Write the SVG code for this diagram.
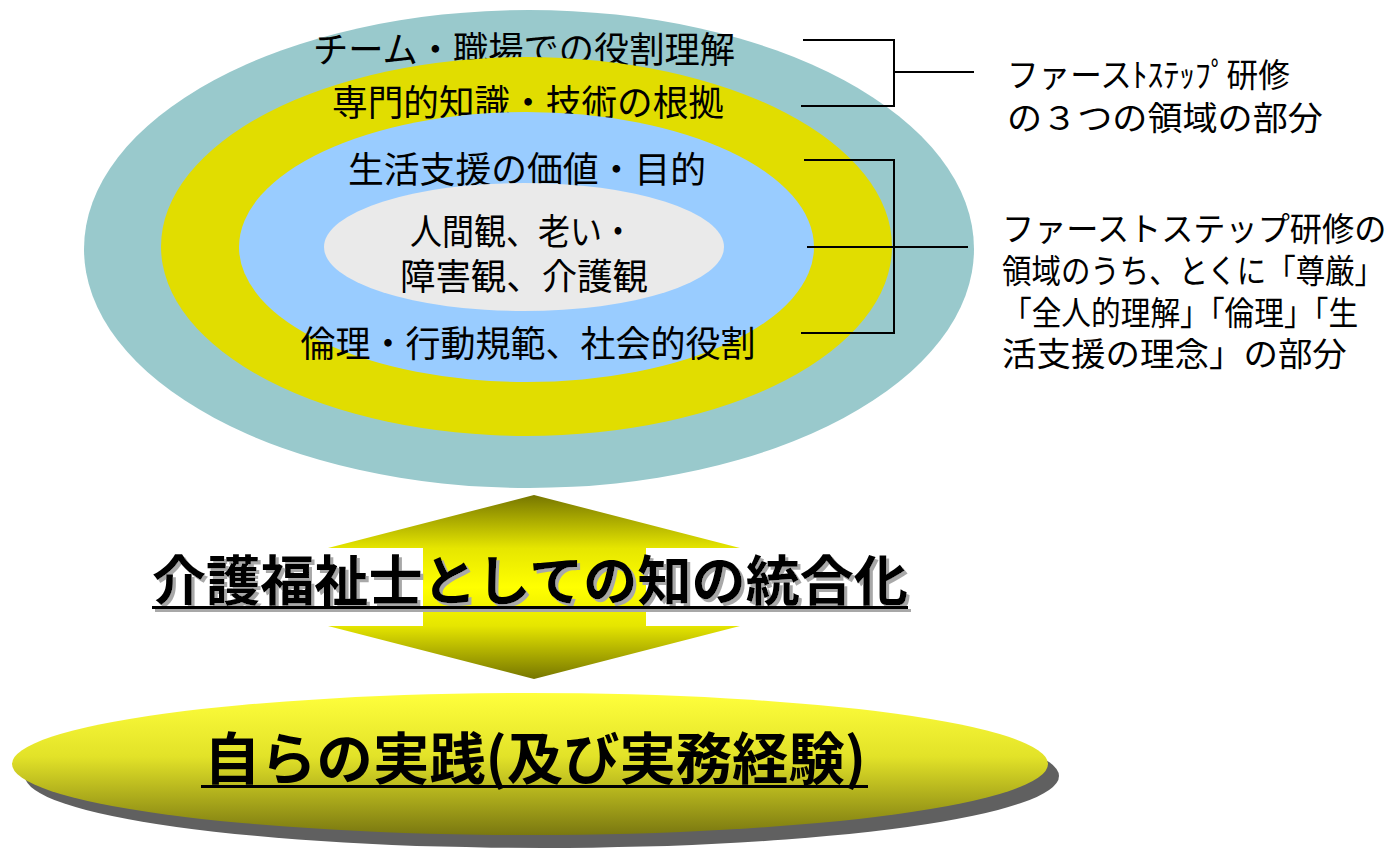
<svg xmlns="http://www.w3.org/2000/svg" width="1395" height="851" viewBox="0 0 1395 851">
<style>
.t{font-family:"Noto Sans CJK JP","Noto Sans",sans-serif;fill:#000}
.c{font-family:"Liberation Sans","Noto Sans CJK JP",sans-serif;fill:#000}
.ring{font-size:36px;text-anchor:middle}
.side{font-size:33px}
.big{font-weight:bold}
.ln{stroke:#000;stroke-width:2;fill:none}
</style>
<defs>
<linearGradient id="arrowGrad" gradientUnits="userSpaceOnUse" x1="0" y1="495" x2="0" y2="679">
<stop offset="0" stop-color="#767600"/>
<stop offset="0.29" stop-color="#E6E600"/>
<stop offset="0.5" stop-color="#FFFF00"/>
<stop offset="0.71" stop-color="#E6E600"/>
<stop offset="1" stop-color="#767600"/>
</linearGradient>
<linearGradient id="baseGrad" x1="0" y1="0" x2="0" y2="1">
<stop offset="0" stop-color="#FFFF3C"/>
<stop offset="0.45" stop-color="#E2E228"/>
<stop offset="1" stop-color="#7A7810"/>
</linearGradient>
<filter id="textShadow" x="-5%" y="-20%" width="110%" height="140%">
<feOffset in="SourceAlpha" dx="3" dy="3" result="off"/>
<feFlood flood-color="#A8A8A8"/>
<feComposite in2="off" operator="in" result="sh"/>
<feMerge><feMergeNode in="sh"/><feMergeNode in="SourceGraphic"/></feMerge>
</filter>
</defs>
<rect width="1395" height="851" fill="#fff"/>

<g id="outer-ring">
<ellipse cx="529" cy="249" rx="445" ry="239" fill="#99C9CC"/>
<text class="c ring" x="524" y="63" textLength="422" lengthAdjust="spacingAndGlyphs">チーム・職場での役割理解</text>
</g>
<g id="yellow-ring">
<ellipse cx="526.5" cy="246.5" rx="365.5" ry="189.5" fill="#E1DD00"/>
<text class="c ring" x="528" y="116" textLength="392" lengthAdjust="spacingAndGlyphs">専門的知識・技術の根拠</text>
</g>
<g id="blue-ring">
<ellipse cx="526.5" cy="247" rx="287.5" ry="135" fill="#99CCFF"/>
<text class="c ring" x="527" y="183" textLength="358" lengthAdjust="spacingAndGlyphs">生活支援の価値・目的</text>
<text class="c ring" x="528" y="357" textLength="455" lengthAdjust="spacingAndGlyphs">倫理・行動規範、社会的役割</text>
</g>
<g id="core">
<ellipse cx="524" cy="247" rx="200" ry="64" fill="#EAEAEA"/>
<text class="c ring" x="522" y="245" textLength="224" lengthAdjust="spacingAndGlyphs">人間観、老い・</text>
<text class="c ring" x="524" y="290" textLength="248" lengthAdjust="spacingAndGlyphs">障害観、介護観</text>
</g>

<g id="connectors">
<polyline class="ln" points="803,40 894,40 894,106 801,106"/>
<line class="ln" x1="894" y1="72" x2="974" y2="72"/>
<polyline class="ln" points="804,160 894,160 894,333 801,333"/>
<line class="ln" x1="807" y1="247" x2="968" y2="247"/>
</g>

<g id="label-three-areas">
<text class="c side" transform="translate(1007,87) scale(0.958,1)">ファースﾄｽﾃｯﾌﾟ研修</text>
<text class="c side" transform="translate(1007,130) scale(1.064,1)">の３つの領域の部分</text>
</g>
<g id="label-dignity">
<text class="c side" transform="translate(1002,241) scale(0.975,1)">ファーストステップ研修の</text>
<text class="c side" transform="translate(1002,283) scale(0.893,1)">領域のうち、とくに「尊厳」</text>
<text class="c side" transform="translate(1002,325) scale(0.9,1)">「全人的理解」「倫理」「生</text>
<text class="c side" transform="translate(1002,366) scale(1.045,1)">活支援の理念」の部分</text>
</g>

<g id="integration-arrow">
<polygon points="534,495 740,548 646,548 646,626 740,626 534,679 328,626 423,626 423,548 328,548" fill="url(#arrowGrad)"/>
<g filter="url(#textShadow)">
<text class="t big" x="152" y="601" font-size="54" textLength="756" lengthAdjust="spacingAndGlyphs">介護福祉士としての知の統合化</text>
<rect x="152" y="606" width="756" height="3" fill="#000"/>
</g>
</g>

<g id="practice">
<ellipse cx="542" cy="776" rx="517" ry="72" fill="#606060"/>
<ellipse cx="530" cy="764" rx="518" ry="71" fill="url(#baseGrad)"/>
<text class="t big" x="204" y="779" font-size="56" textLength="662" lengthAdjust="spacingAndGlyphs">自らの実践(及び実務経験)</text>
<rect x="201" y="785" width="667" height="3" fill="#000"/>
</g>
</svg>
